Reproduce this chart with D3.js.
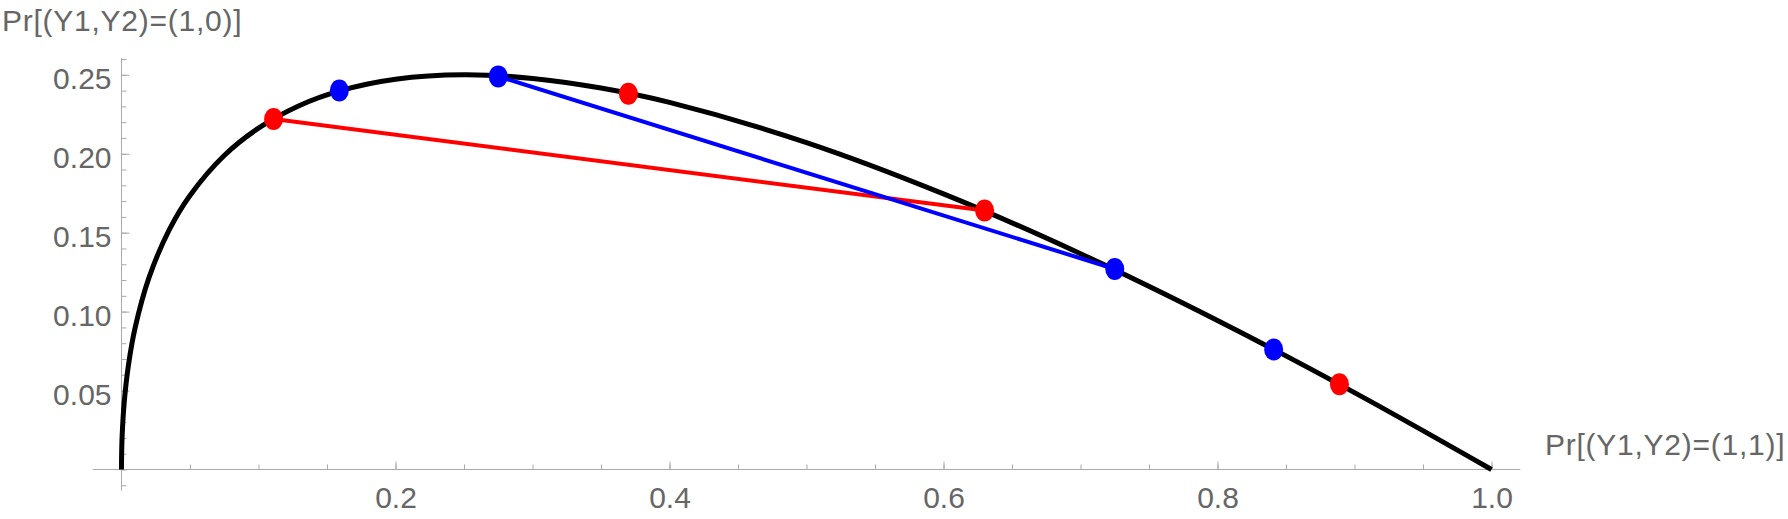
<!DOCTYPE html>
<html>
<head>
<meta charset="utf-8">
<script src="https://cdn.jsdelivr.net/npm/d3@7"></script>
<style>
  html, body { margin: 0; padding: 0; background: #fff; }
  svg { display: block; }
  text { font-family: "Liberation Sans", Arial, sans-serif; }
</style>
</head>
<body>
<svg id="chart"></svg>
<script>
// black curve
const curveX = [0, 0.0001, 0.0005, 0.002, 0.005, 0.01, 0.02, 0.035, 0.05, 0.075, 0.1, 0.13, 0.16, 0.2, 0.25, 0.3, 0.35, 0.4, 0.5, 0.6, 0.7, 0.8, 0.9, 1.0];
const curveY = [0, 0.0099, 0.0219, 0.0427, 0.0657, 0.090, 0.1214, 0.1521, 0.1736, 0.1989, 0.2162, 0.2306, 0.240, 0.2472, 0.250, 0.2477, 0.2416, 0.2325, 0.2071, 0.1746, 0.1367, 0.0944, 0.0487, 0];

// red and blue points
const redX = [0.111, 0.370, 0.630, 0.889];
const redY = [0.222, 0.238, 0.164, 0.054];
const blueX = [0.159, 0.275, 0.725, 0.841];
const blueY = [0.240, 0.249, 0.127, 0.076];

// which points the straight segments join
const redChord = [0, 2];
const blueChord = [1, 2];

// ticks
const xMajor = [0.2, 0.4, 0.6, 0.8, 1.0];
const xMinor = d3.range(0, 21).map(i => i * 0.05);
const yMajor = [0.05, 0.10, 0.15, 0.20, 0.25];
const yMinor = d3.range(-1, 27).map(i => i * 0.01);

const xTitle = "Pr[(Y1,Y2)=(1,1)]";
const yTitle = "Pr[(Y1,Y2)=(1,0)]";

const width = 1788;
const height = 519;

const svg = d3.select("#chart")
    .attr("width", width)
    .attr("height", height);

const x = d3.scaleLinear().domain([0, 1]).range([121.5, 1491.5]);
const y = d3.scaleLinear().domain([0, 0.25]).range([469.5, 74.8]);

const axisColor = "#aaaaaa";
const textColor = "#666666";

// axis lines
svg.append("line")
    .attr("x1", x(-0.021)).attr("x2", x(1.021))
    .attr("y1", y(0)).attr("y2", y(0))
    .attr("stroke", axisColor).attr("stroke-width", 1);

svg.append("line")
    .attr("x1", x(0)).attr("x2", x(0))
    .attr("y1", y(-0.0134)).attr("y2", y(0.2605))
    .attr("stroke", axisColor).attr("stroke-width", 1);

function styleAxis(g) {
    g.select(".domain").remove();
    g.selectAll(".tick line").attr("stroke", axisColor);
    g.selectAll(".tick text")
        .attr("fill", textColor)
        .attr("font-size", 30)
        .attr("font-family", "Liberation Sans, Arial, sans-serif");
}

// x axis
svg.append("g")
    .attr("transform", `translate(0,${y(0)})`)
    .call(d3.axisBottom(x).tickValues(xMinor).tickSize(-5).tickFormat(""))
    .call(styleAxis);

svg.append("g")
    .attr("transform", `translate(0,${y(0)})`)
    .call(d3.axisBottom(x).tickValues(xMajor).tickSizeInner(-8).tickSizeOuter(0)
        .tickPadding(17).tickFormat(d3.format(".1f")))
    .call(styleAxis);

// y axis
svg.append("g")
    .attr("transform", `translate(${x(0)},0)`)
    .call(d3.axisLeft(y).tickValues(yMinor).tickSize(-5).tickFormat(""))
    .call(styleAxis);

const yMajorG = svg.append("g")
    .attr("transform", `translate(${x(0)},0)`)
    .call(d3.axisLeft(y).tickValues(yMajor).tickSizeInner(-8).tickSizeOuter(0)
        .tickPadding(10).tickFormat(d3.format(".2f")))
    .call(styleAxis);
yMajorG.selectAll(".tick text").attr("dy", "0.45em");

// titles
svg.append("text")
    .attr("x", 2)
    .attr("y", 31)
    .attr("fill", textColor)
    .attr("font-size", 30)
    .attr("letter-spacing", "0.75px")
    .text(yTitle);

svg.append("text")
    .attr("x", 1545)
    .attr("y", 455)
    .attr("fill", textColor)
    .attr("font-size", 30)
    .attr("letter-spacing", "0.75px")
    .text(xTitle);

// curve
const line = d3.line()
    .x(d => x(d[0]))
    .y(d => y(d[1]))
    .curve(d3.curveCatmullRom.alpha(0.5));

svg.append("path")
    .datum(curveX.map((v, i) => [v, curveY[i]]))
    .attr("d", line)
    .attr("fill", "none")
    .attr("stroke", "#000")
    .attr("stroke-width", 5);

// chords
function chord(xs, ys, idx, color) {
    svg.append("line")
        .attr("x1", x(xs[idx[0]])).attr("y1", y(ys[idx[0]]))
        .attr("x2", x(xs[idx[1]])).attr("y2", y(ys[idx[1]]))
        .attr("stroke", color)
        .attr("stroke-width", 4);
}
chord(redX, redY, redChord, "#ff0000");
chord(blueX, blueY, blueChord, "#0000ff");

// dots
function dots(xs, ys, color) {
    svg.append("g")
        .selectAll("ellipse")
        .data(xs.map((v, i) => [v, ys[i]]))
        .enter()
        .append("ellipse")
        .attr("cx", d => x(d[0]))
        .attr("cy", d => y(d[1]))
        .attr("rx", 9.5)
        .attr("ry", 11)
        .attr("fill", color);
}
dots(redX, redY, "#ff0000");
dots(blueX, blueY, "#0000ff");
</script>
</body>
</html>
